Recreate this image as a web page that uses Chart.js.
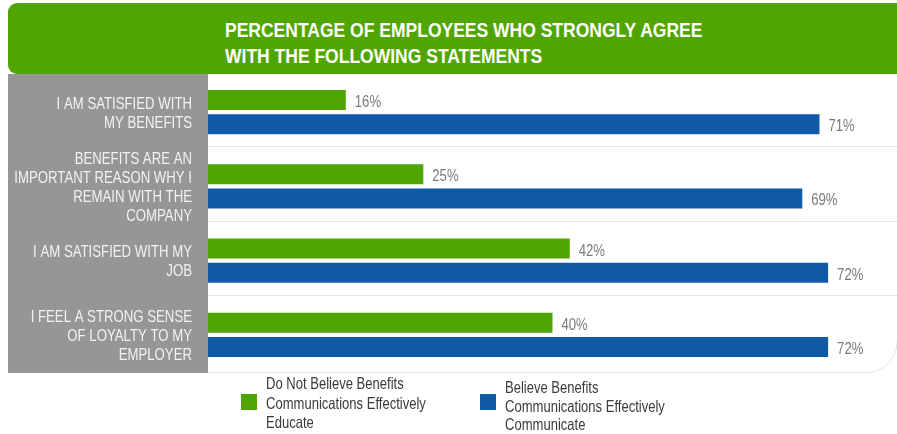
<!DOCTYPE html>
<html>
<head>
<meta charset="utf-8">
<title>Benefits communication survey</title>
<script src="https://cdn.jsdelivr.net/npm/chart.js@4.4.1/dist/chart.umd.min.js"></script>
<style>
  body { margin: 0; background: #fff; }
  #wrap { position: relative; width: 897px; height: 434px; overflow: hidden;
          font-family: 'Liberation Sans', Arial, sans-serif; }
  #chart { position: absolute; left: 0; top: 0; }
  #banner { position: absolute; left: 8px; top: 3px; width: 900px; height: 71px;
            background: #51a500; border-radius: 9px 0 0 9px; }
  /* no condensed face available, so squeeze the regular one */
  .narrow { display: inline-block; white-space: nowrap; transform-origin: 0 0; }
  #banner h1 { margin: 0; position: absolute; left: 217px; top: 14px;
               color: #fff; font-size: 20px; line-height: 26px; font-weight: bold;
               transform: scaleX(0.875); }
  .key { position: absolute; font-size: 16.5px; color: #3a3a3a; transform: scaleX(0.79); }
  .sw { position: absolute; width: 16px; height: 16px; }
</style>
</head>
<body>
<div id="wrap">
  <canvas id="chart" width="897" height="434"></canvas>
  <div id="banner"><h1 class="narrow">PERCENTAGE OF EMPLOYEES WHO STRONGLY AGREE<br>WITH THE FOLLOWING STATEMENTS</h1></div>
  <i class="sw" style="left:241px; top:394px; background:#51a500;"></i>
  <div class="key narrow" style="left:266px; top:374px; line-height:19.5px;">Do Not Believe Benefits<br>Communications Effectively<br>Educate</div>
  <i class="sw" style="left:480px; top:394px; background:#0f59a6;"></i>
  <div class="key narrow" style="left:505px; top:378px; line-height:18.5px;">Believe Benefits<br>Communications Effectively<br>Communicate</div>
</div>
<script>
// statements on the left, one entry per row (each line of a label is its own string)
const statements = [
  ['I AM SATISFIED WITH', 'MY BENEFITS'],
  ['BENEFITS ARE AN', 'IMPORTANT REASON WHY I', 'REMAIN WITH THE', 'COMPANY'],
  ['I AM SATISFIED WITH MY', 'JOB'],
  ['I FEEL A STRONG SENSE', 'OF LOYALTY TO MY', 'EMPLOYER']
];
const notEducate = [16, 25, 42, 40];
const doCommunicate = [71, 69, 72, 72];

const FONT = "'Liberation Sans', Arial, sans-serif";
const GREEN = '#51a500';
const BLUE = '#0f59a6';
const SQUEEZE = 0.8;

// text drawn horizontally squeezed to get a condensed look
function narrowText(ctx, text, x, y, sx) {
  ctx.save();
  ctx.translate(x, y);
  ctx.scale(sx, 1);
  ctx.fillText(text, 0, 0);
  ctx.restore();
}

// gray block with the statements, row separators, rounded bottom edge of the card
const panelPlugin = {
  id: 'panel',
  beforeDatasetsDraw(chart) {
    const { ctx, chartArea } = chart;
    const yScale = chart.scales.y;
    ctx.save();
    ctx.fillStyle = '#969696';
    ctx.fillRect(8, 74, chartArea.left - 8, chartArea.bottom - 74 + 1);

    ctx.strokeStyle = '#e6e6e6';
    ctx.lineWidth = 1;
    for (let i = 1; i < statements.length; i++) {
      const y = Math.round((yScale.getPixelForValue(i - 1) + yScale.getPixelForValue(i)) / 2) - 2.5;
      ctx.beginPath();
      ctx.moveTo(chartArea.left, y);
      ctx.lineTo(chartArea.right, y);
      ctx.stroke();
    }
    const yb = chartArea.bottom + 0.5;
    const r = 30;
    ctx.beginPath();
    ctx.moveTo(chartArea.left, yb);
    ctx.arcTo(chartArea.right, yb, chartArea.right, yb - r, r);
    ctx.stroke();

    // statement labels, right aligned against the bars
    ctx.fillStyle = '#f2f2f2';
    ctx.font = '16.5px ' + FONT;
    ctx.textAlign = 'right';
    ctx.textBaseline = 'alphabetic';
    statements.forEach((lines, i) => {
      const yc = yScale.getPixelForValue(i);
      lines.forEach((line, k) => {
        const y = yc + (k - (lines.length - 1) / 2) * 19 + 6;
        narrowText(ctx, line, chartArea.left - 16, y, SQUEEZE);
      });
    });
    ctx.restore();
  }
};

// percent value printed after each bar
const valuePlugin = {
  id: 'values',
  afterDatasetsDraw(chart) {
    const { ctx } = chart;
    ctx.save();
    ctx.font = '16px ' + FONT;
    ctx.fillStyle = '#7a7a7a';
    ctx.textBaseline = 'alphabetic';
    chart.data.datasets.forEach((ds, i) => {
      chart.getDatasetMeta(i).data.forEach((bar, j) => {
        narrowText(ctx, ds.data[j] + '%', bar.x + 9, bar.y + 7, 0.82);
      });
    });
    ctx.restore();
  }
};

new Chart(document.getElementById('chart'), {
  type: 'bar',
  data: {
    labels: statements.map(s => s.join(' ')),
    datasets: [
      { label: 'Do Not Believe Benefits Communications Effectively Educate', data: notEducate, backgroundColor: GREEN },
      { label: 'Believe Benefits Communications Effectively Communicate', data: doCommunicate, backgroundColor: BLUE }
    ]
  },
  options: {
    indexAxis: 'y',
    responsive: false,
    animation: false,
    categoryPercentage: 0.65,
    barPercentage: 0.83,
    layout: { padding: { left: 8, top: 75, right: 0, bottom: 62 } },
    plugins: { legend: { display: false }, tooltip: { enabled: false } },
    scales: {
      x: { display: false, min: 0, max: 80 },
      y: {
        afterFit(scale) { scale.width = 200; },
        border: { display: false },
        grid: { display: false },
        ticks: { display: false }
      }
    }
  },
  plugins: [panelPlugin, valuePlugin]
});
</script>
</body>
</html>
